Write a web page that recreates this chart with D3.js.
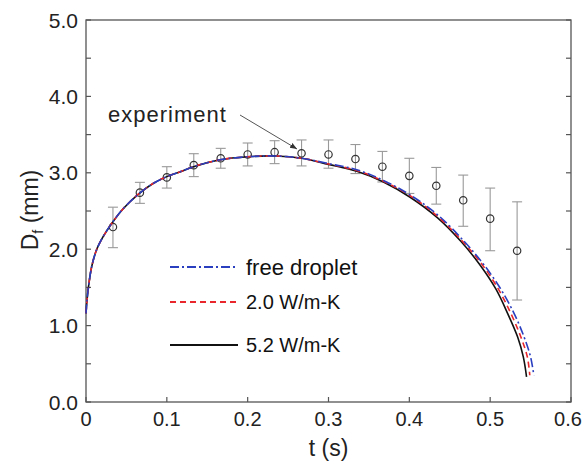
<!DOCTYPE html>
<html><head><meta charset="utf-8">
<script src="https://cdn.jsdelivr.net/npm/d3@7/dist/d3.min.js"></script>
<style>body{margin:0;background:#fff}</style>
</head><body>
<svg id="c" width="584" height="464"></svg>
<script>
// experimental data
const expT   = [1/30,2/30,3/30,4/30,5/30,6/30,7/30,8/30,9/30,10/30,11/30,12/30,13/30,14/30,15/30,16/30];
const expD   = [2.29,2.74,2.94,3.10,3.19,3.24,3.27,3.255,3.24,3.18,3.08,2.96,2.83,2.64,2.40,1.98];
const expHi  = [2.55,2.875,3.08,3.25,3.32,3.39,3.42,3.43,3.43,3.37,3.28,3.19,3.07,2.97,2.80,2.62];
const expLo  = [2.02,2.60,2.80,2.95,3.06,3.09,3.12,3.09,3.06,2.99,2.88,2.73,2.59,2.30,1.98,1.335];
// shared early part of simulated curves
const riseT = [0,0.001,0.003,0.007,0.013,0.021,0.032,0.046,0.066,0.083,0.1,0.116,0.133,0.166,0.2,0.234,0.267];
const riseD = [1.16,1.30,1.50,1.77,1.99,2.16,2.34,2.53,2.73,2.86,2.95,3.01,3.08,3.17,3.21,3.22,3.19];
// late parts
const freeT = [0.3,0.335,0.368,0.401,0.435,0.468,0.492,0.513,0.530,0.542,0.550,0.554];
const freeD = [3.12,3.04,2.90,2.71,2.45,2.10,1.80,1.48,1.15,0.85,0.59,0.35];
const k20T  = [0.3,0.335,0.368,0.401,0.435,0.466,0.490,0.510,0.526,0.538,0.546,0.549];
const k20D  = [3.115,3.03,2.89,2.70,2.43,2.10,1.80,1.48,1.15,0.85,0.59,0.35];
const k52T  = [0.3,0.335,0.368,0.401,0.435,0.464,0.487,0.507,0.522,0.534,0.541,0.545];
const k52D  = [3.11,3.02,2.88,2.68,2.41,2.10,1.80,1.48,1.15,0.85,0.59,0.33];
const xTicks = [0,0.1,0.2,0.3,0.4,0.5,0.6];
const yTicks = [0,1,2,3,4,5];
const seriesNames = ["free droplet","2.0 W/m-K","5.2 W/m-K"];

const svg = d3.select("#c");
const X0=86, X1=571, Y0=402, Y1=20;
const x = d3.scaleLinear().domain([0,0.6]).range([X0,X1]);
const y = d3.scaleLinear().domain([0,5]).range([Y0,Y1]);
const font = "Liberation Sans, Arial, sans-serif";
const axisCol = "#555";

// frame
svg.append("rect").attr("x",X0).attr("y",Y1).attr("width",X1-X0).attr("height",Y0-Y1)
  .attr("fill","none").attr("stroke",axisCol).attr("stroke-width",1.3);

// ticks
const minorY = d3.range(0,5.01,0.5);
const g = svg.append("g").attr("stroke",axisCol).attr("stroke-width",1.2);
minorY.forEach(v=>{
  g.append("line").attr("x1",X0).attr("x2",X0+5).attr("y1",y(v)).attr("y2",y(v));
  g.append("line").attr("x1",X1).attr("x2",X1-5).attr("y1",y(v)).attr("y2",y(v));
});
xTicks.forEach(v=>{
  g.append("line").attr("x1",x(v)).attr("x2",x(v)).attr("y1",Y0).attr("y2",Y0-5);
});

// tick labels
svg.append("g").selectAll("text").data(yTicks).join("text")
  .attr("x",X0-8).attr("y",d=>y(d)).attr("dy","0.36em").attr("text-anchor","end")
  .attr("font-family",font).attr("font-size",21).attr("fill","#222").text(d=>d.toFixed(1));
svg.append("g").selectAll("text").data(xTicks).join("text")
  .attr("x",d=>Math.min(x(d),568)).attr("y",Y0+24).attr("text-anchor","middle")
  .attr("font-family",font).attr("font-size",20).attr("fill","#222").text(d=>d===0?"0":d.toFixed(1));

// axis titles
svg.append("text").attr("x",(X0+X1)/2).attr("y",456).attr("text-anchor","middle")
  .attr("font-family",font).attr("font-size",23).attr("fill","#222").text("t (s)");
const yl = svg.append("text").attr("transform","translate(38,210) rotate(-90)").attr("text-anchor","middle")
  .attr("font-family",font).attr("font-size",23).attr("fill","#222");
yl.append("tspan").text("D");
yl.append("tspan").attr("font-size",14).attr("dy",5).text("f");
yl.append("tspan").attr("dy",-5).text(" (mm)");

// error bars and points
const eb = svg.append("g").attr("stroke","#999").attr("stroke-width",1.1);
expT.forEach((t,i)=>{
  eb.append("line").attr("x1",x(t)).attr("x2",x(t)).attr("y1",y(expHi[i])).attr("y2",y(expLo[i]));
  eb.append("line").attr("x1",x(t)-5).attr("x2",x(t)+5).attr("y1",y(expHi[i])).attr("y2",y(expHi[i]));
  eb.append("line").attr("x1",x(t)-5).attr("x2",x(t)+5).attr("y1",y(expLo[i])).attr("y2",y(expLo[i]));
});
svg.append("g").selectAll("circle").data(expT).join("circle")
  .attr("cx",d=>x(d)).attr("cy",(d,i)=>y(expD[i])).attr("r",3.7)
  .attr("fill","none").attr("stroke","#333").attr("stroke-width",1.2);

// curves
const line = d3.line().x(d=>x(d[0])).y(d=>y(d[1])).curve(d3.curveCatmullRom.alpha(0.5));
function pts(lt,ld){ return riseT.map((t,i)=>[t,riseD[i]]).concat(lt.map((t,i)=>[t,ld[i]])); }
const styles = [
  {data:pts(k52T,k52D), color:"#111", dash:null},
  {data:pts(k20T,k20D), color:"#e8262b", dash:"6,4"},
  {data:pts(freeT,freeD), color:"#2a3fc0", dash:"9,3,2,3"}
];
styles.forEach(s=>{
  svg.append("path").attr("d",line(s.data)).attr("fill","none").attr("stroke",s.color)
    .attr("stroke-width",1.6).attr("stroke-dasharray",s.dash);
});

// legend
const leg = [styles[2],styles[1],styles[0]];
const legY = [267,302,345];
const legFS = [22,20,20];
leg.forEach((s,i)=>{
  svg.append("line").attr("x1",170).attr("x2",238).attr("y1",legY[i]).attr("y2",legY[i])
    .attr("stroke",s.color).attr("stroke-width",2).attr("stroke-dasharray",s.dash);
  svg.append("text").attr("x",246).attr("y",legY[i]).attr("dy","0.36em")
    .attr("font-family",font).attr("font-size",legFS[i]).attr("fill","#111").text(seriesNames[i]);
});

// annotation
svg.append("defs").append("marker").attr("id","ah").attr("viewBox","0 0 10 10")
  .attr("refX",10).attr("refY",5).attr("markerWidth",7).attr("markerHeight",7).attr("orient","auto")
  .append("path").attr("d","M0,1 L10,5 L0,9 Z").attr("fill","#333");
svg.append("text").attr("x",108).attr("y",114).attr("dy","0.36em")
  .attr("font-family",font).attr("font-size",22).attr("letter-spacing",1).attr("fill","#222").text("experiment");
svg.append("line").attr("x1",240).attr("y1",115).attr("x2",297).attr("y2",149)
  .attr("stroke","#555").attr("stroke-width",1).attr("marker-end","url(#ah)");
</script>
</body></html>
